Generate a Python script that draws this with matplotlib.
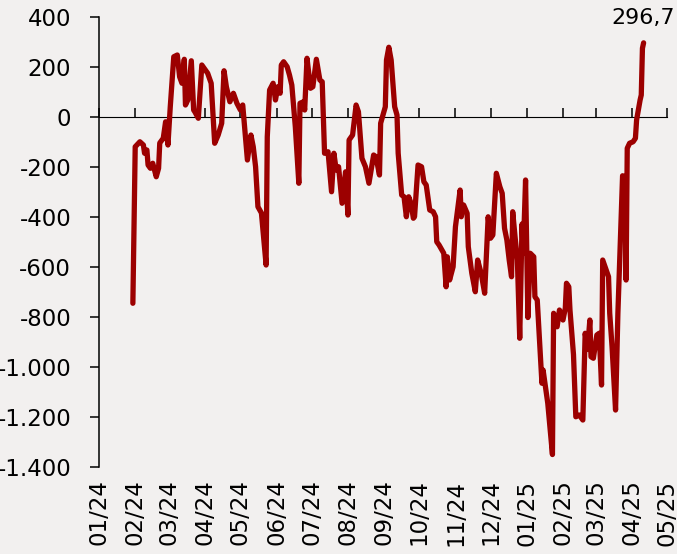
import numpy as np
import pandas as pd
import matplotlib
matplotlib.use("Agg")
import matplotlib.pyplot as plt
import matplotlib.dates as mdates
from matplotlib.ticker import FuncFormatter

# values
dates = [
    "2024-01-30", "2024-02-01", "2024-02-05", "2024-02-08", "2024-02-09", "2024-02-11",
    "2024-02-12", "2024-02-14", "2024-02-16", "2024-02-19", "2024-02-21", "2024-02-22",
    "2024-02-25", "2024-02-27", "2024-02-29", "2024-03-02", "2024-03-05", "2024-03-08",
    "2024-03-10", "2024-03-12", "2024-03-14", "2024-03-15", "2024-03-17", "2024-03-20",
    "2024-03-22", "2024-03-23", "2024-03-26", "2024-03-29", "2024-03-31", "2024-04-03",
    "2024-04-06", "2024-04-09", "2024-04-12", "2024-04-15", "2024-04-17", "2024-04-19",
    "2024-04-22", "2024-04-25", "2024-04-28", "2024-05-01", "2024-05-03", "2024-05-07",
    "2024-05-10", "2024-05-12", "2024-05-14", "2024-05-16", "2024-05-19", "2024-05-23",
    "2024-05-24", "2024-05-26", "2024-05-29", "2024-05-31", "2024-06-02", "2024-06-04",
    "2024-06-05", "2024-06-07", "2024-06-10", "2024-06-12", "2024-06-14", "2024-06-17",
    "2024-06-20", "2024-06-21", "2024-06-24", "2024-06-25", "2024-06-27", "2024-06-30",
    "2024-07-02", "2024-07-05", "2024-07-08", "2024-07-10", "2024-07-12", "2024-07-15",
    "2024-07-18", "2024-07-20", "2024-07-22", "2024-07-24", "2024-07-27", "2024-07-30",
    "2024-08-01", "2024-08-02", "2024-08-05", "2024-08-08", "2024-08-10", "2024-08-13",
    "2024-08-16", "2024-08-19", "2024-08-23", "2024-08-25", "2024-08-28", "2024-08-29",
    "2024-09-02", "2024-09-03", "2024-09-05", "2024-09-07", "2024-09-10", "2024-09-12",
    "2024-09-13", "2024-09-16", "2024-09-18", "2024-09-20", "2024-09-22", "2024-09-24",
    "2024-09-26", "2024-09-27", "2024-09-30", "2024-10-03", "2024-10-05", "2024-10-07",
    "2024-10-10", "2024-10-13", "2024-10-15", "2024-10-16", "2024-10-18", "2024-10-22",
    "2024-10-24", "2024-10-25", "2024-10-27", "2024-10-30", "2024-11-01", "2024-11-05",
    "2024-11-06", "2024-11-08", "2024-11-11", "2024-11-12", "2024-11-15", "2024-11-18",
    "2024-11-20", "2024-11-23", "2024-11-26", "2024-11-29", "2024-12-01", "2024-12-03",
    "2024-12-06", "2024-12-09", "2024-12-11", "2024-12-13", "2024-12-15", "2024-12-17",
    "2024-12-19", "2024-12-20", "2024-12-22", "2024-12-24", "2024-12-26", "2024-12-28",
    "2024-12-29", "2024-12-31", "2025-01-02", "2025-01-04", "2025-01-07", "2025-01-08",
    "2025-01-10", "2025-01-14", "2025-01-15", "2025-01-17", "2025-01-19", "2025-01-23",
    "2025-01-24", "2025-01-27", "2025-01-29", "2025-02-01", "2025-02-03", "2025-02-04",
    "2025-02-06", "2025-02-07", "2025-02-10", "2025-02-12", "2025-02-15", "2025-02-18",
    "2025-02-20", "2025-02-22", "2025-02-24", "2025-02-25", "2025-02-27", "2025-03-02",
    "2025-03-04", "2025-03-06", "2025-03-07", "2025-03-09", "2025-03-12", "2025-03-13",
    "2025-03-15", "2025-03-18", "2025-03-20", "2025-03-24", "2025-03-26", "2025-03-27",
    "2025-03-28", "2025-03-30", "2025-04-02", "2025-04-04", "2025-04-05", "2025-04-08",
    "2025-04-09", "2025-04-10", "2025-04-11",
]
values = [
    -745, -119, -99, -112, -145, -132,
    -192, -205, -185, -239, -205, -104,
    -85, -19, -112, 41, 241, 248,
    161, 135, 231, 48, 68, 225,
    28, 21, -5, 208, 195, 175,
    135, -105, -72, -25, 185, 121,
    61, 95, 55, 28, 48, -172,
    -72, -119, -199, -359, -384, -592,
    -79, 108, 135, 68, 121, 95,
    208, 221, 201, 168, 128, -39,
    -265, 55, 61, 28, 235, 115,
    121, 231, 148, 141, -145, -139,
    -299, -145, -212, -199, -345, -219,
    -392, -92, -72, 48, 21, -165,
    -199, -265, -152, -159, -232, -25,
    41, 228, 279, 228, 41, 8,
    -145, -312, -319, -399, -319, -345,
    -405, -399, -192, -199, -259, -272,
    -372, -379, -399, -499, -512, -545,
    -679, -559, -652, -599, -439, -292,
    -399, -352, -385, -519, -625, -699,
    -572, -625, -705, -399, -485, -472,
    -225, -279, -305, -445, -492, -572,
    -639, -379, -479, -572, -885, -428,
    -545, -252, -802, -545, -559, -719,
    -732, -1065, -1012, -1079, -1145, -1350,
    -785, -839, -772, -812, -765, -665,
    -679, -772, -950, -1199, -1192, -1212,
    -865, -930, -812, -959, -965, -872,
    -865, -1072, -572, -599, -639, -785,
    -919, -1172, -785, -235, -239, -652,
    -125, -105, -99, -85, -12, 68,
    88, 275, 296.7,
]
last_label = "296,7"
y_ticks = [400, 200, 0, -200, -400, -600, -800, -1000, -1200, -1400]

bg = "#F2F0EF"
line_color = "#9C0000"

x = pd.to_datetime(dates)

fig = plt.figure(figsize=(6.77, 5.54), dpi=100, facecolor=bg)
ax = fig.add_axes([0.1462, 0.157, 0.839, 0.8123], facecolor=bg)

ax.plot(x, values, color=line_color, lw=3.8, solid_joinstyle="round",
        solid_capstyle="round", zorder=3)

ax.set_ylim(-1400, 400)
ax.set_xlim(pd.Timestamp("2024-01-01"), pd.Timestamp("2025-05-01"))
ax.set_yticks(y_ticks)
ax.yaxis.set_major_formatter(FuncFormatter(lambda v, p: f"{v:,.0f}".replace(",", ".")))

ax.xaxis.set_major_locator(mdates.MonthLocator())
ax.xaxis.set_major_formatter(mdates.DateFormatter("%m/%y"))
ax.tick_params(axis="x", length=0, pad=9, labelsize=16.5, labelrotation=90)
ax.tick_params(axis="y", direction="out", length=6.5, width=1.1, pad=13.5, labelsize=16.5)

for s in ["top", "right", "bottom"]:
    ax.spines[s].set_visible(False)
ax.spines["left"].set_linewidth(1.1)

# zero line with month ticks
zero = ax.secondary_xaxis(1400 / 1800)
zero.xaxis.set_major_locator(mdates.MonthLocator())
zero.tick_params(axis="x", direction="out", length=6.5, width=1.1, labelbottom=False)
zero.set_xticklabels([])
zero.spines["bottom"].set_linewidth(1.1)

ax.annotate(last_label, xy=(x[-1], values[-1]), xytext=(0, 11),
            textcoords="offset points", ha="center", va="bottom", fontsize=16,
            annotation_clip=False)

fig.savefig("out.png", dpi=100, facecolor=bg)
